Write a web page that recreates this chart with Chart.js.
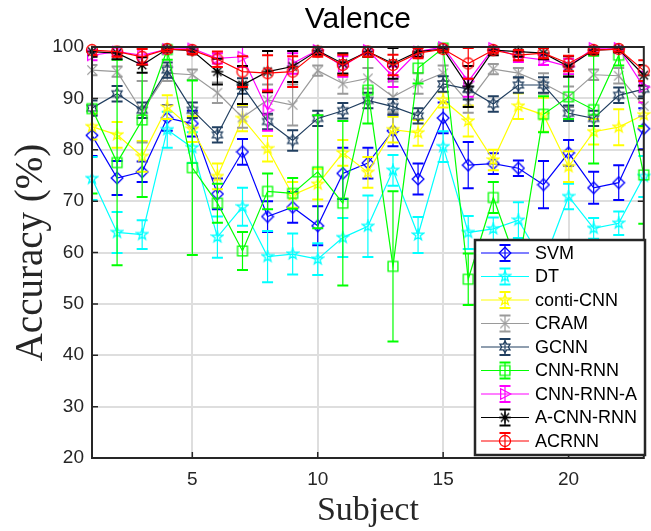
<!DOCTYPE html>
<html>
<head>
<meta charset="utf-8">
<script src="https://cdn.jsdelivr.net/npm/chart.js@4.4.1/dist/chart.umd.min.js"></script>
<style>
  html, body { margin: 0; padding: 0; background: #fff; }
  #wrap { width: 651px; height: 531px; position: relative; }
</style>
</head>
<body>
<div id="wrap"><canvas id="chart" width="651" height="531"></canvas></div>
<script>
// donnees
const subjects = [1, 2, 3, 4, 5, 6, 7, 8, 9, 10, 11, 12, 13, 14, 15, 16, 17, 18, 19, 20, 21, 22, 23];
const xTicks = [5, 10, 15, 20];
const yTicks = [20, 30, 40, 50, 60, 70, 80, 90, 100];

const svm =       [82.8, 74.5, 75.7, 86.2, 85.1, 71.4, 79.6, 67.0, 68.8, 65.2, 75.4, 77.4, 83.7, 74.3, 86.2, 77.0, 77.3, 76.4, 73.2, 79.4, 72.6, 73.6, 84.1];
const svmErr =    [4, 3.3, 2, 2.5, 2.5, 3, 2.5, 3, 3, 3.8, 5, 3, 3, 3, 3, 4.5, 2, 1.5, 4.6, 2.5, 3.1, 3.4, 4];
const dt =        [74.4, 63.9, 63.5, 83.9, 80.4, 63.0, 68.9, 59.2, 59.7, 58.7, 62.9, 65.1, 76.0, 63.4, 80.6, 63.9, 64.6, 66.3, 58.0, 70.9, 64.7, 65.7, 74.8];
const dtErr =     [4.2, 4, 2.8, 3.5, 3, 4, 3.7, 5, 4, 3.1, 3.8, 6, 3, 3.5, 3, 3.2, 2.2, 3.5, 4, 2.5, 2, 2.3, 4];
const conti =     [84.5, 82.9, 78.7, 88.3, 84.0, 74.8, 86.1, 80.2, 71.2, 73.3, 79.4, 75.6, 83.9, 83.3, 89.7, 85.6, 78.0, 88.5, 86.8, 76.7, 83.5, 84.4, 86.8];
const contiErr =  [2.5, 2.5, 3, 2.3, 2.5, 2.5, 2.5, 2.5, 2.5, 3, 2.5, 3, 2.5, 2.5, 1.5, 3, 2, 2.5, 3.3, 3, 2.5, 3.5, 2.5];
const cram =      [95.5, 95.2, 87.4, 94.9, 94.6, 91.1, 86.3, 89.7, 88.7, 95.4, 92.9, 93.9, 90.3, 92.9, 94.9, 89.2, 95.7, 94.9, 92.9, 90.3, 94.6, 94.4, 88.5];
const cramErr =   [1, 1, 6, 1.5, 1, 2, 2, 3, 4, 1, 2, 2, 3, 2, 1.5, 2, 1, 1, 2, 2, 1, 1.5, 2];
const gcnn =      [88.1, 90.9, 87.7, 95.5, 87.7, 82.9, 92.4, 85.5, 81.8, 86.1, 87.6, 89.6, 88.4, 86.6, 92.8, 91.8, 88.9, 92.6, 92.6, 87.1, 86.1, 90.6, 91.8];
const gcnnErr =   [1.5, 1.5, 1.5, 1.5, 1.5, 1.5, 1.5, 1.5, 2, 1.5, 1.5, 1.5, 1.5, 1.5, 1.5, 2, 1.5, 1.5, 1.5, 1.5, 1.5, 1.5, 1.5];
const cnnRnn =    [88.0, 77.5, 85.8, 99.5, 76.5, 69.6, 60.3, 71.9, 71.5, 75.7, 69.6, 91.6, 57.3, 95.9, 99.8, 54.8, 70.7, 57.0, 86.9, 90.3, 87.8, 98.4, 75.1];
const cnnRnnErr = [16.5, 20, 15, 2, 17, 3.8, 3.7, 3.5, 3, 11, 16, 6.5, 14.6, 3, 0.5, 5, 3, 5, 3.5, 4.3, 10.5, 2, 9.5];
const cnnRnnA =   [98.4, 99.1, 98.4, 99.6, 99.7, 97.8, 98.1, 87.7, 96.8, 99.4, 96.2, 99.4, 94.2, 99.1, 100, 93.3, 99.8, 98.1, 97.5, 96.2, 99.8, 99.8, 92.2];
const cnnRnnAErr = [1, 0.8, 1.5, 0.5, 0.5, 1, 2, 4, 2, 0.8, 2, 0.8, 2, 1, 0.3, 3, 0.5, 1, 1, 1.5, 0.5, 0.5, 3];
const aCnnRnn =   [99.1, 98.8, 96.5, 99.6, 99.3, 95.2, 92.6, 95.2, 96.2, 99.3, 96.8, 99.1, 96.8, 99.1, 99.6, 92.3, 99.4, 99.1, 98.8, 96.2, 99.4, 99.6, 94.5];
const aCnnRnnErr = [1, 1.2, 1.5, 0.5, 0.7, 2.5, 3.7, 4, 3, 0.8, 2, 1, 3, 1, 0.5, 4, 1, 1, 1.2, 2, 0.8, 0.6, 2];
const acrnn =     [99.4, 99.1, 98.1, 99.6, 99.4, 97.6, 95.2, 94.9, 95.2, 99.1, 96.5, 99.1, 96.5, 98.8, 99.6, 96.8, 99.4, 98.4, 98.8, 96.8, 99.4, 99.6, 95.4];
const acrnnErr =  [1, 1, 1.5, 0.5, 0.7, 1.5, 3, 3.5, 3, 1, 2, 1, 2, 1, 0.5, 3, 0.5, 1, 1, 1.5, 0.5, 0.5, 2];

const seriesNames = ["SVM", "DT", "conti-CNN", "CRAM", "GCNN", "CNN-RNN", "CNN-RNN-A", "A-CNN-RNN", "ACRNN"];
const seriesValues = [svm, dt, conti, cram, gcnn, cnnRnn, cnnRnnA, aCnnRnn, acrnn];
const seriesErrors = [svmErr, dtErr, contiErr, cramErr, gcnnErr, cnnRnnErr, cnnRnnAErr, aCnnRnnErr, acrnnErr];
const seriesColors = ["#0000ff", "#00ffff", "#ffff00", "#9a9a9a", "#213f60", "#00ff00", "#ff00ff", "#000000", "#ff0000"];
const seriesMarkers = ["diamond", "pentagram", "pentagram", "x", "hexagram", "square", "triangle", "asterisk", "circle"];

const AXIS = "#262626";

// marqueurs façon Matlab, dessinés dans un petit canvas
function makeMarker(shape, color) {
  const s = 14, r = 5.8;
  const c = document.createElement("canvas");
  c.width = s; c.height = s;
  const g = c.getContext("2d");
  g.strokeStyle = color;
  g.lineWidth = 1.3;
  g.translate(s / 2, s / 2);
  g.beginPath();
  if (shape === "diamond") {
    g.moveTo(0, -r); g.lineTo(r, 0); g.lineTo(0, r); g.lineTo(-r, 0); g.closePath();
  } else if (shape === "pentagram" || shape === "hexagram") {
    const n = shape === "pentagram" ? 5 : 6;
    const inner = shape === "pentagram" ? r * 0.4 : r * 0.58;
    for (let k = 0; k < n * 2; k++) {
      const a = -Math.PI / 2 + k * Math.PI / n;
      const rr = k % 2 === 0 ? r : inner;
      const px = Math.cos(a) * rr, py = Math.sin(a) * rr;
      if (k === 0) g.moveTo(px, py); else g.lineTo(px, py);
    }
    g.closePath();
  } else if (shape === "x") {
    const d = r * 0.8;
    g.moveTo(-d, -d); g.lineTo(d, d); g.moveTo(d, -d); g.lineTo(-d, d);
  } else if (shape === "square") {
    const d = r * 0.85;
    g.rect(-d, -d, 2 * d, 2 * d);
  } else if (shape === "triangle") {
    g.moveTo(r, 0); g.lineTo(-r * 0.75, -r * 0.9); g.lineTo(-r * 0.75, r * 0.9); g.closePath();
  } else if (shape === "asterisk") {
    const d = r * 0.72;
    g.moveTo(-r, 0); g.lineTo(r, 0); g.moveTo(0, -r); g.lineTo(0, r);
    g.moveTo(-d, -d); g.lineTo(d, d); g.moveTo(d, -d); g.lineTo(-d, d);
  } else if (shape === "circle") {
    g.arc(0, 0, r * 0.95, 0, Math.PI * 2);
  }
  g.stroke();
  return c;
}

const markerImgs = seriesMarkers.map((m, i) => makeMarker(m, seriesColors[i]));

const datasets = seriesNames.map((name, i) => ({
  label: name,
  data: subjects.map((s, j) => ({ x: s, y: seriesValues[i][j] })),
  errors: seriesErrors[i],
  borderColor: seriesColors[i],
  backgroundColor: seriesColors[i],
  borderWidth: 1.2,
  pointStyle: markerImgs[i],
  pointRadius: 6,
  tension: 0,
  clip: false,
  order: seriesNames.length - i
}));

// barres d'erreur
const errorBars = {
  id: "errorBars",
  afterDatasetDraw(chart, args) {
    const ds = chart.data.datasets[args.index];
    const ctx = chart.ctx, xs = chart.scales.x, ys = chart.scales.y, a = chart.chartArea;
    ctx.save();
    ctx.beginPath();
    ctx.rect(a.left, a.top - 1, a.right - a.left, a.bottom - a.top + 2);
    ctx.clip();
    ctx.strokeStyle = ds.borderColor;
    ds.data.forEach((p, j) => {
      const e = ds.errors[j];
      const px = xs.getPixelForValue(p.x);
      const yt = ys.getPixelForValue(p.y + e);
      const yb = ys.getPixelForValue(p.y - e);
      ctx.lineWidth = 1.2;
      ctx.beginPath();
      ctx.moveTo(px, yt); ctx.lineTo(px, yb);
      ctx.stroke();
      ctx.lineWidth = 2;
      ctx.beginPath();
      ctx.moveTo(px - 5.5, yt); ctx.lineTo(px + 5.5, yt);
      ctx.moveTo(px - 5.5, yb); ctx.lineTo(px + 5.5, yb);
      ctx.stroke();
    });
    ctx.restore();
  }
};

// cadre, graduations, titre et legende
const decor = {
  id: "decor",
  afterDraw(chart) {
    const ctx = chart.ctx, a = chart.chartArea, xs = chart.scales.x, ys = chart.scales.y;
    ctx.save();
    ctx.strokeStyle = AXIS;
    ctx.lineWidth = 2;
    ctx.strokeRect(a.left, a.top, a.right - a.left, a.bottom - a.top);
    ctx.lineWidth = 1.5;
    ctx.beginPath();
    xTicks.forEach(v => {
      const px = xs.getPixelForValue(v);
      ctx.moveTo(px, a.bottom); ctx.lineTo(px, a.bottom - 6);
      ctx.moveTo(px, a.top); ctx.lineTo(px, a.top + 6);
    });
    yTicks.forEach(v => {
      const py = ys.getPixelForValue(v);
      ctx.moveTo(a.left, py); ctx.lineTo(a.left + 6, py);
      ctx.moveTo(a.right, py); ctx.lineTo(a.right - 6, py);
    });
    ctx.stroke();

    // titre
    ctx.fillStyle = "#000";
    ctx.font = "30px 'Liberation Sans', Arial, sans-serif";
    ctx.textAlign = "center";
    ctx.textBaseline = "middle";
    ctx.fillText("Valence", (a.left + a.right) / 2 - 10, 20);

    // legende
    const lx = 475, ly = 240, lw = 170, lh = 215;
    ctx.fillStyle = "#fff";
    ctx.fillRect(lx, ly, lw, lh);
    ctx.lineWidth = 2.5;
    ctx.strokeStyle = AXIS;
    ctx.strokeRect(lx, ly, lw, lh);
    ctx.font = "18px 'Liberation Sans', Arial, sans-serif";
    ctx.textAlign = "left";
    seriesNames.forEach((name, i) => {
      const cy = ly + 13 + i * 23.5;
      const mx = 505;
      ctx.strokeStyle = seriesColors[i];
      ctx.lineWidth = 1.2;
      ctx.beginPath();
      ctx.moveTo(481, cy); ctx.lineTo(529, cy);
      ctx.moveTo(mx, cy - 8); ctx.lineTo(mx, cy + 8);
      ctx.stroke();
      ctx.lineWidth = 2;
      ctx.beginPath();
      ctx.moveTo(mx - 5.5, cy - 8); ctx.lineTo(mx + 5.5, cy - 8);
      ctx.moveTo(mx - 5.5, cy + 8); ctx.lineTo(mx + 5.5, cy + 8);
      ctx.stroke();
      const img = markerImgs[i];
      ctx.drawImage(img, mx - img.width / 2, cy - img.height / 2);
      ctx.fillStyle = "#000";
      ctx.fillText(name, 535, cy + 1);
    });
    ctx.restore();
  }
};

new Chart(document.getElementById("chart"), {
  type: "line",
  data: { datasets: datasets },
  plugins: [errorBars, decor],
  options: {
    responsive: false,
    animation: false,
    devicePixelRatio: 1,
    layout: { padding: { left: 0, right: 4, top: 47, bottom: 0 } },
    plugins: {
      legend: { display: false },
      tooltip: { enabled: false },
      title: { display: false }
    },
    scales: {
      x: {
        type: "linear",
        min: 1,
        max: 23,
        afterBuildTicks: s => { s.ticks = xTicks.map(v => ({ value: v })); },
        afterFit: s => { s.height = 73; },
        grid: { color: "#dedede", lineWidth: 2, drawTicks: false },
        border: { display: false },
        ticks: {
          font: { family: "'Liberation Sans', Arial, sans-serif", size: 19 },
          color: AXIS,
          padding: 10,
          maxRotation: 0
        },
        title: {
          display: true,
          text: "Subject",
          font: { family: "'Liberation Serif', 'Times New Roman', serif", size: 34 },
          color: AXIS,
          padding: { top: 0, bottom: 0 }
        }
      },
      y: {
        min: 20,
        max: 100,
        afterBuildTicks: s => { s.ticks = yTicks.map(v => ({ value: v })); },
        afterFit: s => { s.width = 92; },
        grid: { color: "#dedede", lineWidth: 2, drawTicks: false },
        border: { display: false },
        ticks: {
          font: { family: "'Liberation Sans', Arial, sans-serif", size: 19 },
          color: AXIS,
          padding: 8
        },
        title: {
          display: true,
          text: "Accuracy (%)",
          font: { family: "'Liberation Serif', 'Times New Roman', serif", size: 39 },
          color: AXIS,
          padding: { top: 8, bottom: 0 }
        }
      }
    }
  }
});
</script>
</body>
</html>
